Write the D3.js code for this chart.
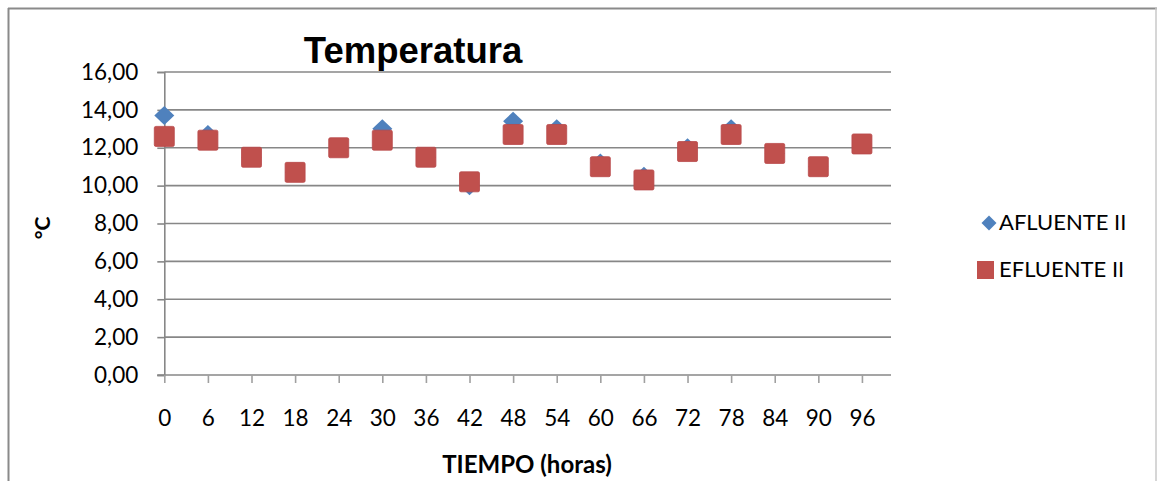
<!DOCTYPE html>
<html>
<head>
<meta charset="utf-8">
<script src="https://cdn.jsdelivr.net/npm/d3@7"></script>
<style>
  html, body { margin: 0; padding: 0; background: #fff; }
  svg { display: block; }
</style>
</head>
<body>
<svg id="chart" width="1157" height="481"></svg>
<script>
// Sampling hours and temperature readings (°C)
const hours = [0, 6, 12, 18, 24, 30, 36, 42, 48, 54, 60, 66, 72, 78, 84, 90, 96];
const afluente = [13.7, 12.7, 11.5, 10.7, 12.0, 13.0, 11.5, 10.0, 13.4, 13.0, 11.2, 10.5, 12.0, 13.0, 11.7, 11.0, 12.2];
const efluente = [12.6, 12.4, 11.5, 10.7, 12.0, 12.4, 11.5, 10.2, 12.7, 12.7, 11.0, 10.3, 11.8, 12.7, 11.7, 11.0, 12.2];
const yTicks = [0, 2, 4, 6, 8, 10, 12, 14, 16];
const seriesNames = ["AFLUENTE II", "EFLUENTE II"];
const seriesColors = ["#4F81BD", "#C0504D"];

const svg = d3.select("#chart");
const font = "Lato, 'Open Sans', sans-serif";
const fmt = v => v.toFixed(2).replace(".", ",");

// Outer chart frame
svg.append("line").attr("x1", 8).attr("x2", 1157).attr("y1", 8.5).attr("y2", 8.5)
  .attr("stroke", "#8a8a8a").attr("stroke-width", 2);
svg.append("line").attr("x1", 8.5).attr("x2", 8.5).attr("y1", 8).attr("y2", 481)
  .attr("stroke", "#8a8a8a").attr("stroke-width", 2);
svg.append("line").attr("x1", 1156).attr("x2", 1156).attr("y1", 8).attr("y2", 481)
  .attr("stroke", "#c8c8c8").attr("stroke-width", 1.5);

const x = d3.scaleLinear().domain([0, 100]).range([164.3, 891]);
const y = d3.scaleLinear().domain([0, 16]).range([375, 72]);

// Horizontal gridlines
svg.append("g").selectAll("line").data(yTicks.filter(d => d > 0)).join("line")
  .attr("x1", x(0)).attr("x2", x(100))
  .attr("y1", d => y(d)).attr("y2", d => y(d))
  .attr("stroke", "#878787").attr("stroke-width", 1.6);

// Y axis
const yAxis = svg.append("g").attr("transform", `translate(${x(0)},0)`)
  .call(d3.axisLeft(y).tickValues(yTicks).tickFormat(fmt).tickSize(7).tickPadding(19));
yAxis.select(".domain").attr("stroke", "#878787").attr("stroke-width", 1.6);
yAxis.selectAll(".tick line").attr("stroke", "#878787").attr("stroke-width", 1.6);
yAxis.selectAll("text").attr("font-family", font).attr("font-size", 22.5).attr("fill", "#000");

// X axis
const xAxis = svg.append("g").attr("transform", `translate(0,${y(0)})`)
  .call(d3.axisBottom(x).tickValues(hours).tickFormat(d3.format("d")).tickSize(8).tickPadding(27));
xAxis.select(".domain").attr("stroke", "#878787").attr("stroke-width", 1.6)
  .attr("d", `M${x(0) - 7},0H${x(100)}`);
xAxis.selectAll(".tick line").attr("stroke", "#a0a0a0").attr("stroke-width", 1.6);
xAxis.selectAll("text").attr("font-family", font).attr("font-size", 22.5).attr("fill", "#000");

// Markers: diamonds for the influent, squares for the effluent
const diamond = (cx, cy, w, h) => `M${cx},${cy - h / 2}L${cx + w / 2},${cy}L${cx},${cy + h / 2}L${cx - w / 2},${cy}Z`;
svg.append("g").selectAll("path").data(hours).join("path")
  .attr("d", (d, i) => diamond(x(d), y(afluente[i]), 20, 19))
  .attr("fill", seriesColors[0]);
svg.append("g").selectAll("rect").data(hours).join("rect")
  .attr("x", d => x(d) - 10).attr("width", 20)
  .attr("y", (d, i) => y(efluente[i]) - 10).attr("height", 20)
  .attr("rx", 1.5)
  .attr("fill", seriesColors[1]).attr("stroke", "#b9494a").attr("stroke-width", 0.8);

// Title
svg.append("text").attr("x", 413).attr("y", 63).attr("text-anchor", "middle")
  .attr("font-family", "'Liberation Sans', Arial, sans-serif").attr("font-weight", "bold")
  .attr("font-size", 36.5).text("Temperatura");

// Axis titles
svg.append("text").attr("transform", "translate(50,228) rotate(-90)").attr("text-anchor", "middle")
  .attr("font-family", font).attr("font-weight", "bold").attr("font-size", 21).text("°C");
svg.append("text").attr("x", 527).attr("y", 473).attr("text-anchor", "middle")
  .attr("font-family", font).attr("font-weight", "bold").attr("font-size", 24).text("TIEMPO (horas)");

// Legend
const legend = svg.append("g");
legend.append("path").attr("d", diamond(989, 223, 15, 15)).attr("fill", seriesColors[0]);
legend.append("rect").attr("x", 977).attr("y", 261).attr("width", 17).attr("height", 18)
  .attr("fill", seriesColors[1]);
legend.selectAll("text").data(seriesNames).join("text")
  .attr("x", 999).attr("y", (d, i) => 230 + i * 47)
  .attr("font-family", font).attr("font-size", 22).text(d => d);
</script>
</body>
</html>
